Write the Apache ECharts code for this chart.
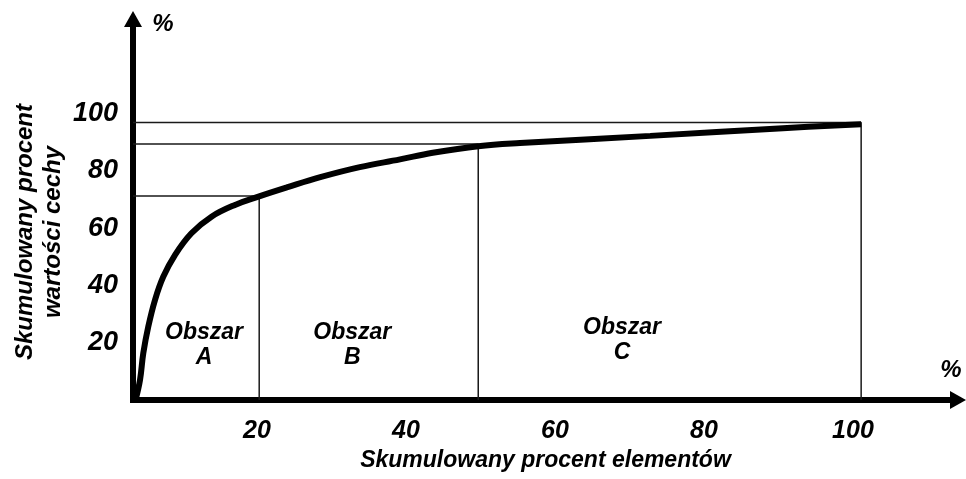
<!DOCTYPE html>
<html>
<head>
<meta charset="utf-8">
<title>Krzywa ABC</title>
<script src="https://cdn.jsdelivr.net/npm/echarts@6/dist/echarts.min.js"></script>
<style>
  html, body { margin: 0; padding: 0; background: #fff; }
  #chart { width: 966px; height: 479px; }
</style>
</head>
<body>
<div id="chart"></div>
<script>
// krzywa ABC
const curveX = [3.7, 4.3, 4.74, 5.41, 6.31, 7.42, 8.99, 11.2, 13.9, 17.05, 20.2, 24.0, 28.5, 33.8, 39.2, 43.6, 49.7, 55.3, 72.8, 90.6, 101.1];
const curveY = [0.0, 7.0, 16.3, 25.6, 34.9, 43.0, 50.6, 58.2, 64.0, 68.1, 71.0, 74.2, 77.8, 81.3, 84.0, 86.3, 88.6, 89.7, 92.2, 94.9, 96.3];

// granice obszarów A / B / C
const cutX = [20.3, 49.7, 101.1];
const cutY = [71.2, 89.4, 96.9];

const regionNames = ['Obszar\nA', 'Obszar\nB', 'Obszar\nC'];
const regionX = [12.9, 32.8, 69.0];
const regionY = [19.2, 19.2, 20.9];

const xTicks = [20, 40, 60, 80, 100];
const yTicks = [20, 40, 60, 80, 100];

// zakres osi (oś Y stoi przy x = xMin)
const xMin = 3.36;
const xMax = 114.1;
const yMax = 133;

const font = 'Liberation Sans, Arial, sans-serif';
const txt = (size) => ({
  color: '#000',
  fontSize: size,
  fontWeight: 'bold',
  fontStyle: 'italic',
  fontFamily: font
});

const chart = echarts.init(document.getElementById('chart'), null, { renderer: 'canvas' });

// linie pomocnicze: pozioma od osi Y, potem pionowa w dół do osi X
const guideSeries = cutX.map((cx, i) => ({
  type: 'line',
  data: [[xMin, cutY[i]], [cx, cutY[i]], [cx, 0]],
  symbol: 'none',
  silent: true,
  z: 2,
  lineStyle: { color: '#1a1a1a', width: 1.5 }
}));

chart.setOption({
  animation: false,
  backgroundColor: '#fff',
  grid: {
    left: 133,
    right: 8,
    top: 19,
    bottom: 79,
    outerBoundsMode: 'none'
  },
  xAxis: {
    type: 'value',
    min: xMin,
    max: xMax,
    axisLine: {
      show: true,
      onZero: false,
      symbol: ['none', 'triangle'],
      symbolSize: [18, 16],
      lineStyle: { color: '#000', width: 6, cap: 'square' }
    },
    axisTick: { show: false },
    splitLine: { show: false },
    axisLabel: Object.assign({ customValues: xTicks, margin: 19 }, txt(25)),
    name: 'Skumulowany procent elementów',
    nameLocation: 'middle',
    nameGap: 49,
    nameTextStyle: txt(23)
  },
  yAxis: {
    type: 'value',
    min: 0,
    max: yMax,
    axisLine: {
      show: true,
      onZero: false,
      symbol: ['none', 'triangle'],
      symbolSize: [18, 16],
      lineStyle: { color: '#000', width: 6, cap: 'square' }
    },
    axisTick: { show: false },
    splitLine: { show: false },
    axisLabel: Object.assign({ customValues: yTicks, margin: 15 }, txt(27))
  },
  graphic: [
    {
      type: 'text',
      x: 39,
      y: 232,
      rotation: Math.PI / 2,
      style: {
        text: 'Skumulowany procent\nwartości cechy',
        textAlign: 'center',
        textVerticalAlign: 'middle',
        lineHeight: 28,
        fill: '#000',
        font: 'italic bold 24px ' + font
      }
    },
    {
      type: 'text',
      x: 163,
      y: 24,
      style: {
        text: '%',
        textAlign: 'center',
        textVerticalAlign: 'middle',
        fill: '#000',
        font: 'italic bold 24px ' + font
      }
    },
    {
      type: 'text',
      x: 951,
      y: 370,
      style: {
        text: '%',
        textAlign: 'center',
        textVerticalAlign: 'middle',
        fill: '#000',
        font: 'italic bold 24px ' + font
      }
    }
  ],
  series: guideSeries.concat([
    {
      type: 'line',
      data: curveX.map((x, i) => [x, curveY[i]]),
      smooth: 0.4,
      symbol: 'none',
      silent: true,
      z: 3,
      lineStyle: { color: '#000', width: 6 }
    },
    {
      type: 'scatter',
      data: regionNames.map((n, i) => ({ value: [regionX[i], regionY[i]], name: n })),
      symbolSize: 1,
      silent: true,
      itemStyle: { color: 'transparent', opacity: 1 },
      label: Object.assign({
        show: true,
        position: 'inside',
        lineHeight: 25,
        align: 'center',
        opacity: 1,
        textBorderWidth: 0,
        formatter: (p) => p.name
      }, txt(23))
    }
  ])
});
</script>
</body>
</html>
